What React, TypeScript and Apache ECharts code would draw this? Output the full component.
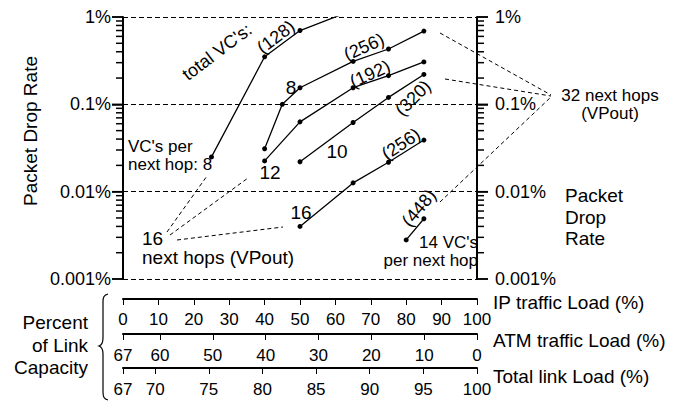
import React, { useEffect, useRef } from 'react';
import * as echarts from 'echarts';

// ---- Data (x = IP traffic load %, y = packet drop rate %) ----
const ipLoadTicks = [0, 10, 20, 30, 40, 50, 60, 70, 80, 90, 100];
const atmLoadTicks = [67, 60, 50, 40, 30, 20, 10, 0];
const totalLoadTicks = [67, 70, 75, 80, 85, 90, 95, 100];
const dropRateDecades = [0.001, 0.01, 0.1, 1];
const logSubdivisions = [1, 2, 3, 4, 5, 6, 7, 8, 9];

const total128_vc8 = [[25, 0.025], [40, 0.35], [50, 0.7], [65, 1.2]];
const total256_vc8 = [[40, 0.031], [45, 0.1], [50, 0.155], [65, 0.31], [75, 0.43], [85, 0.69]];
const total192_vc12 = [[40, 0.0225], [50, 0.063], [65, 0.155], [75, 0.213], [85, 0.306]];
const total320_vc10 = [[50, 0.022], [65, 0.062], [75, 0.12], [85, 0.22]];
const total256_vc16 = [[50, 0.004], [65, 0.0126], [75, 0.0217], [85, 0.039]];
const total448_vc14 = [[80, 0.0028], [85, 0.0049]];

const FONT = '"Liberation Sans", Arial, Helvetica, sans-serif';

// tick marks for the log axes: [x, value, isMajor]
const logTickData: number[][] = [];
dropRateDecades.slice(0, 3).forEach((d) => {
  logSubdivisions.forEach((k) => logTickData.push([50, Number((d * k).toPrecision(3)), k === 1 ? 1 : 0]));
});
logTickData.push([50, dropRateDecades[3], 1]);

echarts.graphic.registerShape(
  'brace',
  echarts.graphic.extendPath(
    'M108,294 C104,295 103,297 103,302 L103,338 C103,343 102,345 99,346 C102,347 103,349 103,354 L103,392 C103,397 104,399 108,400',
    {}
  )
);

const txt = (text: string, x: number, y: number, opts: any = {}) => ({
  type: 'text',
  x,
  y,
  rotation: opts.rot ? (opts.rot * Math.PI) / 180 : 0,
  z: 50,
  style: {
    text,
    fill: '#000',
    fontSize: opts.size || 19,
    fontFamily: FONT,
    align: opts.align || 'left',
    verticalAlign: 'middle',
    lineHeight: opts.lh,
  },
});

const dline = (x1: number, y1: number, x2: number, y2: number) => ({
  type: 'line',
  z: 40,
  shape: { x1, y1, x2, y2 },
  style: { stroke: '#000', lineWidth: 1, lineDash: [4, 3] },
});

const seriesOf = (data: number[][]) => ({
  type: 'line',
  xAxisIndex: 0,
  yAxisIndex: 0,
  data,
  symbol: 'circle',
  symbolSize: 5,
  clip: true,
  lineStyle: { color: '#000', width: 1.3 },
  itemStyle: { color: '#000' },
});

const bottomAxis = (gridIndex: number, extra: any) => ({
  gridIndex,
  type: 'value',
  position: 'bottom',
  axisLine: { show: true, lineStyle: { color: '#000', width: 2 } },
  axisTick: { show: true, length: 6, lineStyle: { color: '#000', width: 1 } },
  axisLabel: { margin: 12, fontSize: 17, color: '#000', fontFamily: FONT },
  splitLine: { show: false },
  ...extra,
});

const logAxis = (position: string) => ({
  gridIndex: 0,
  type: 'log',
  logBase: 10,
  min: dropRateDecades[0],
  max: dropRateDecades[dropRateDecades.length - 1],
  position,
  axisLine: { show: true, onZero: false, lineStyle: { color: '#000', width: 2 } },
  axisTick: { show: true, length: 11, lineStyle: { color: '#000', width: 1.5 } },
  axisLabel: {
    show: true,
    margin: position === 'left' ? 12 : 18,
    fontSize: 18,
    color: '#000',
    fontFamily: FONT,
    formatter: (v: number) => Number(v.toPrecision(2)) + '%',
  },
  splitLine:
    position === 'left'
      ? { show: true, lineStyle: { color: '#000', width: 1, type: [5, 3] } }
      : { show: false },
});

export default function App() {
  const ref = useRef<HTMLDivElement>(null);
  useEffect(() => {
    if (!ref.current) return;
    const chart = echarts.init(ref.current, undefined, { renderer: 'svg' });
    const option: any = {
      animation: false,
      backgroundColor: '#fff',
      grid: [
        { left: 123, top: 17, width: 354, height: 262 },
        { left: 123, top: 298, width: 354, height: 1 },
        { left: 123, top: 333, width: 354, height: 1 },
        { left: 123, top: 367, width: 354, height: 1 },
      ],
      xAxis: [
        { gridIndex: 0, type: 'value', min: 0, max: 100, show: false },
        bottomAxis(1, { min: ipLoadTicks[0], max: ipLoadTicks[ipLoadTicks.length - 1], interval: 10 }),
        bottomAxis(2, {
          min: 0,
          max: 67,
          inverse: true,
          axisTick: { show: true, length: 6, customValues: atmLoadTicks, lineStyle: { color: '#000', width: 1 } },
          axisLabel: { margin: 13, fontSize: 17, color: '#000', fontFamily: FONT, customValues: atmLoadTicks },
        }),
        bottomAxis(3, {
          min: 67,
          max: 100,
          axisTick: { show: true, length: 6, customValues: totalLoadTicks, lineStyle: { color: '#000', width: 1 } },
          axisLabel: { margin: 13, fontSize: 17, color: '#000', fontFamily: FONT, customValues: totalLoadTicks },
        }),
      ],
      yAxis: [
        logAxis('left'),
        logAxis('right'),
        { gridIndex: 1, type: 'value', show: false },
        { gridIndex: 2, type: 'value', show: false },
        { gridIndex: 3, type: 'value', show: false },
      ],
      series: [
        seriesOf(total128_vc8),
        seriesOf(total256_vc8),
        seriesOf(total192_vc12),
        seriesOf(total320_vc10),
        seriesOf(total256_vc16),
        seriesOf(total448_vc14),
        {
          type: 'custom',
          coordinateSystem: 'cartesian2d',
          xAxisIndex: 0,
          yAxisIndex: 0,
          clip: false,
          silent: true,
          z: 30,
          data: logTickData,
          encode: { x: 0, y: 1 },
          renderItem: (params: any, api: any) => {
            const v = api.value(1);
            const major = api.value(2) > 0;
            const len = major ? 11 : 7;
            const pl = api.coord([0, v]);
            const pr = api.coord([100, v]);
            const st = { stroke: '#000', fill: 'none', lineWidth: 1.5 };
            return {
              type: 'group',
              children: [
                { type: 'line', shape: { x1: pl[0] - len, y1: pl[1], x2: pl[0], y2: pl[1] }, style: st },
                { type: 'line', shape: { x1: pr[0], y1: pr[1], x2: pr[0] + len, y2: pr[1] }, style: st },
              ],
            };
          },
        },
      ],
      graphic: [
        txt('Packet Drop Rate', 30, 131, { rot: 90, align: 'center' }),
        txt("total VC's:", 217, 52, { rot: 37, align: 'center', size: 18 }),
        txt('(128)', 276, 37, { rot: 37, align: 'center', size: 18 }),
        txt('(256)', 364, 47, { rot: 24, align: 'center', size: 18 }),
        txt('(192)', 370, 74, { rot: 24, align: 'center', size: 18 }),
        txt('(320)', 413, 98, { rot: 45, align: 'center', size: 18 }),
        txt('(256)', 401, 144, { rot: 33, align: 'center', size: 18 }),
        txt('(448)', 419, 208, { rot: 50, align: 'center', size: 18 }),
        txt('8', 291, 87, { align: 'center' }),
        txt('12', 270, 172, { align: 'center' }),
        txt('10', 337, 151, { align: 'center' }),
        txt('16', 301, 212, { align: 'center' }),
        txt("VC's per\nnext hop: 8", 128, 155.5, { size: 17, lh: 18 }),
        txt('16', 142, 238),
        txt('next hops (VPout)', 142, 257),
        txt("14 VC's\nper next hop", 478, 251.5, { align: 'right', size: 17, lh: 18 }),
        txt('32 next hops\n(VPout)', 610, 104, { align: 'center', size: 17, lh: 18 }),
        txt('Packet', 565, 195),
        txt('Drop', 565, 217),
        txt('Rate', 565, 238),
        txt('IP traffic Load (%)', 493, 302),
        txt('ATM traffic Load (%)', 493, 340),
        txt('Total link Load (%)', 493, 376),
        txt('Percent', 88, 322, { align: 'right' }),
        txt('of Link', 88, 345, { align: 'right' }),
        txt('Capacity', 88, 367, { align: 'right' }),
        dline(167, 232, 207, 176),
        dline(170, 235, 248, 178),
        dline(177, 240, 283, 227),
        dline(440, 33, 551, 95),
        dline(445, 79, 551, 96),
        dline(440, 202, 551, 97),
        {
          type: 'brace',
          x: 0,
          y: 0,
          z: 40,
          style: { stroke: '#000', fill: 'none', lineWidth: 1.2 },
        },
      ],
    };
    chart.setOption(option);
    return () => chart.dispose();
  }, []);
  return (
    <div
      ref={ref}
      style={{ position: 'fixed', left: 0, top: 0, width: 680, height: 403, background: '#fff' }}
    />
  );
}
